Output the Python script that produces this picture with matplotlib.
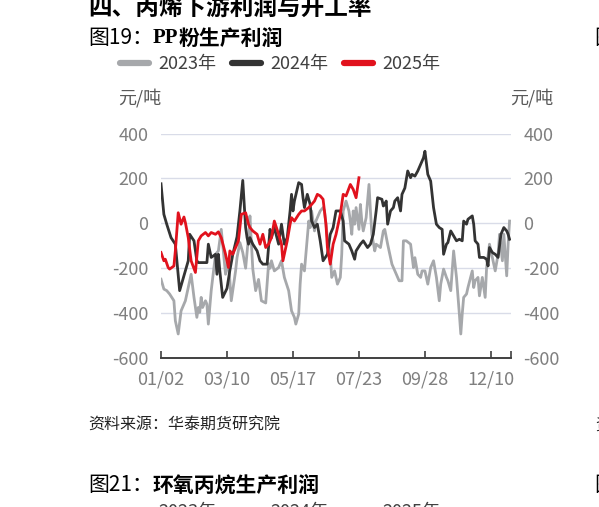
import matplotlib
matplotlib.use("Agg")
import matplotlib.pyplot as plt
from matplotlib.lines import Line2D

plt.rcParams['font.family'] = ['Noto Sans CJK SC', 'DejaVu Sans']
plt.rcParams['axes.unicode_minus'] = False

# trading-day index within the year (0 = 01/02)
tick_days = [0, 46, 92, 138, 184, 230, 244]
tick_labels = ['01/02', '03/10', '05/17', '07/23', '09/28', '12/10', '']
n_days = 244

# 2023
d2023 = [0, 2, 4, 6, 9, 10, 12, 14, 17, 19, 21, 23, 25, 26, 27, 28, 29, 31, 32, 33,
         35, 38, 40, 42, 45, 47, 49, 52, 53, 55, 57, 59, 61, 62, 64, 66, 68, 70, 73, 75,
         76, 77, 79, 82, 84, 86, 89, 91, 93, 94, 96, 97, 98, 100, 102, 103, 104, 105, 107, 108,
         111, 113, 114, 116, 118, 119, 121, 123, 125, 126, 127, 129, 131, 132, 133, 134, 135, 136, 138, 139,
         140, 141, 143, 145, 146, 147, 149, 150, 153, 155, 156, 158, 161, 163, 166, 168, 169, 171, 174, 176,
         177, 179, 181, 182, 184, 186, 188, 190, 192, 194, 195, 197, 199, 200, 202, 204, 206, 208, 209, 210,
         211, 213, 214, 217, 218, 219, 221, 222, 224, 226, 227, 229, 231, 233, 235, 236, 238, 239, 241, 242,
         243]
v2023 = [-249, -293, -300, -315, -345, -434, -493, -390, -345, -286, -227, -330, -419, -375, -397, -330, -375, -345, -360, -449,
         -300, -138, -123, -27, -227, -167, -345, -212, -153, -86, -130, -200, -60, 33, -204, -300, -250, -345, -355, -180,
         -200, -167, -212, -197, -167, -241, -300, -390, -419, -449, -404, -271, -182, -212, -64, 10, -19, 55, -34, 10,
         55, 70, 55, -64, -138, -241, -212, -271, -241, -138, 55, 99, 55, 10, -49, 55, -4, 70, -27, 84,
         10, -34, 25, 173, 55, -49, -123, -93, -108, -34, -27, -93, -182, -212, -256, -256, -78, -78, -93, -197,
         -153, -227, -241, -212, -212, -271, -197, -167, -241, -345, -271, -204, -241, -256, -300, -123, -241, -404, -493, -404,
         -330, -315, -286, -212, -286, -256, -241, -323, -241, -330, -197, -93, -153, -212, -138, -49, -167, -49, -234, -93,
         10]

# 2024
d2024 = [0, 2, 4, 7, 10, 13, 19, 20, 23, 25, 26, 32, 33, 35, 38, 39, 40, 41, 43, 46,
         48, 50, 53, 55, 57, 59, 60, 61, 62, 64, 67, 69, 71, 74, 76, 77, 79, 82, 84, 86,
         88, 90, 91, 92, 93, 96, 98, 99, 100, 102, 104, 105, 107, 109, 111, 113, 116, 118, 120, 122,
         125, 127, 128, 131, 133, 135, 136, 139, 141, 144, 146, 148, 150, 151, 154, 155, 156, 157, 158, 160,
         162, 163, 165, 167, 168, 170, 172, 174, 175, 177, 179, 181, 183, 184, 186, 188, 189, 190, 192, 194,
         196, 197, 199, 200, 202, 204, 206, 208, 210, 211, 213, 214, 217, 218, 219, 221, 222, 225, 227, 228,
         229, 231, 233, 235, 237, 239, 241, 242, 243]
v2024 = [176, 40, -4, -64, -93, -300, -167, -49, -78, -167, -175, -175, -93, -152, -138, -227, -138, -212, -330, -290,
         -210, -140, -60, 55, 191, -19, -64, -93, -64, -93, -123, -167, -182, -182, -27, -64, -19, -93, -4, -93,
         -64, 55, 129, 55, 99, 181, 173, 114, 70, 129, 84, 10, -19, -4, -78, -167, -138, -49, -19, 55,
         55, 10, -78, -93, -123, -160, -123, -93, -78, -108, -93, -49, 55, 114, 107, 77, 84, 99, -4, 55,
         70, 99, 114, 55, 129, 157, 233, 203, 218, 210, 233, 262, 292, 321, 218, 188, 129, 70, -4, -19,
         -27, -138, -93, -86, -34, -56, -78, -71, -78, 10, -4, 18, 33, -4, -78, -93, -152, -152, -160, -190,
         -108, -130, -138, -152, -49, -19, -34, -49, -71]

# 2025
d2025 = [0, 2, 3, 5, 6, 9, 10, 12, 14, 16, 17, 19, 21, 24, 26, 28, 31, 33, 35, 38,
         40, 42, 45, 47, 48, 50, 52, 54, 56, 59, 61, 62, 64, 67, 69, 71, 73, 75, 77, 79,
         82, 84, 85, 88, 90, 91, 93, 96, 98, 100, 103, 105, 107, 109, 111, 113, 115, 116, 118, 120,
         122, 125, 127, 129, 132, 134, 136, 138]
v2025 = [-130, -167, -160, -197, -204, -190, -123, 47, -4, 28, 3, -64, -167, -219, -78, -56, -41, -56, -41, -49,
         -38, -64, -138, -197, -123, -138, -108, -78, 40, 47, -4, -19, -34, -49, -93, -49, -108, -93, -64, 10,
         -49, -93, -167, -78, -4, 25, 10, 40, 55, 55, 70, 84, 99, 129, 122, 107, -4, -108, -182, -93,
         -50, 40, 129, 122, 173, 151, 114, 203]

series = [('2023年', d2023, v2023, '#a6a8ab'),
          ('2024年', d2024, v2024, '#333333'),
          ('2025年', d2025, v2025, '#e1121d')]

W, H = 599, 507
fig = plt.figure(figsize=(W / 100, H / 100), dpi=100)
ax = fig.add_axes([161 / W, 1 - 358 / H, 350 / W, 224.5 / H])

for name, d, v, c in series:
    ax.plot(d, v, color=c, lw=2.0, solid_joinstyle='round')

ax.set_xlim(0, n_days)
ax.set_ylim(-600, 400)
ax.set_yticks([-600, -400, -200, 0, 200, 400])
ax.set_xticks(tick_days)
ax.set_xticklabels(tick_labels)
for yv in [-400, -200, 0, 200, 400]:
    ax.axhline(yv, color='#d9dce8', lw=1.0, zorder=0)

for s in ['top', 'left', 'right']:
    ax.spines[s].set_visible(False)
ax.spines['bottom'].set_color('#404040')
ax.spines['bottom'].set_linewidth(1.4)

ax.tick_params(axis='y', length=0, pad=9, labelsize=13, labelcolor='#7f7f7f',
               labelright=True)
ax.tick_params(axis='x', direction='in', length=5, width=1.2, color='#404040',
               pad=9, labelsize=13, labelcolor='#7f7f7f')

# units
fig.text(118 / W, 1 - 98 / H, '元/吨', fontsize=13, color='#595959', va='center', ha='left')
fig.text(510 / W, 1 - 98 / H, '元/吨', fontsize=13, color='#595959', va='center', ha='left')

# legend
handles = [Line2D([], [], color=c, lw=4.5, solid_capstyle='round') for _, _, _, c in series]
names = [n for n, _, _, _ in series]
fig.legend(handles, names, loc='center left', bbox_to_anchor=(120 / W, 1 - 64 / H),
           ncol=3, frameon=False, fontsize=13, handlelength=1.6, handletextpad=0.5,
           columnspacing=0.9, borderpad=0, borderaxespad=0, labelcolor='#404040')

# page text around the chart
fig.text(88 / W, 1 - 8 / H, '四、丙烯下游利润与开工率', fontsize=17, fontweight='bold',
         color='black', va='center', ha='left')

t1 = fig.text(88 / W, 1 - 38 / H, '图19：', fontsize=15, color='black', va='center', ha='left')
a2 = ax.annotate('PP', xy=(1, 0.5), xycoords=t1, va='center', ha='left', fontsize=15,
                 fontweight='bold', family='Liberation Serif', color='black',
                 annotation_clip=False)
ax.annotate('粉生产利润', xy=(1, 0.5), xycoords=a2, va='center', ha='left', fontsize=15,
            fontweight='bold', color='black', annotation_clip=False)

fig.text(88 / W, 1 - 425 / H, '资料来源：华泰期货研究院', fontsize=11.5, color='#222222',
         va='center', ha='left')

t4 = fig.text(88 / W, 1 - 485 / H, '图21：', fontsize=15, color='black', va='center', ha='left')
ax.annotate('环氧丙烷生产利润', xy=(1, 0.5), xycoords=t4, va='center', ha='left', fontsize=15,
            fontweight='bold', color='black', annotation_clip=False)
# next chart's legend, cut off by the page bottom
fig.legend(handles, names, loc='center left', bbox_to_anchor=(120 / W, 1 - 512 / H),
           ncol=3, frameon=False, fontsize=13, handlelength=1.6, handletextpad=0.5,
           columnspacing=0.9, borderpad=0, borderaxespad=0, labelcolor='#404040')

# neighbouring column, cut off at the page edge
fig.text(594 / W, 1 - 38 / H, '图20：', fontsize=15, color='black', va='center', ha='left')
fig.text(595 / W, 1 - 425 / H, '资料来源', fontsize=11.5, color='#222222', va='center', ha='left')
fig.text(594 / W, 1 - 485 / H, '图22：', fontsize=15, color='black', va='center', ha='left')

fig.savefig('out.png', dpi=100)
